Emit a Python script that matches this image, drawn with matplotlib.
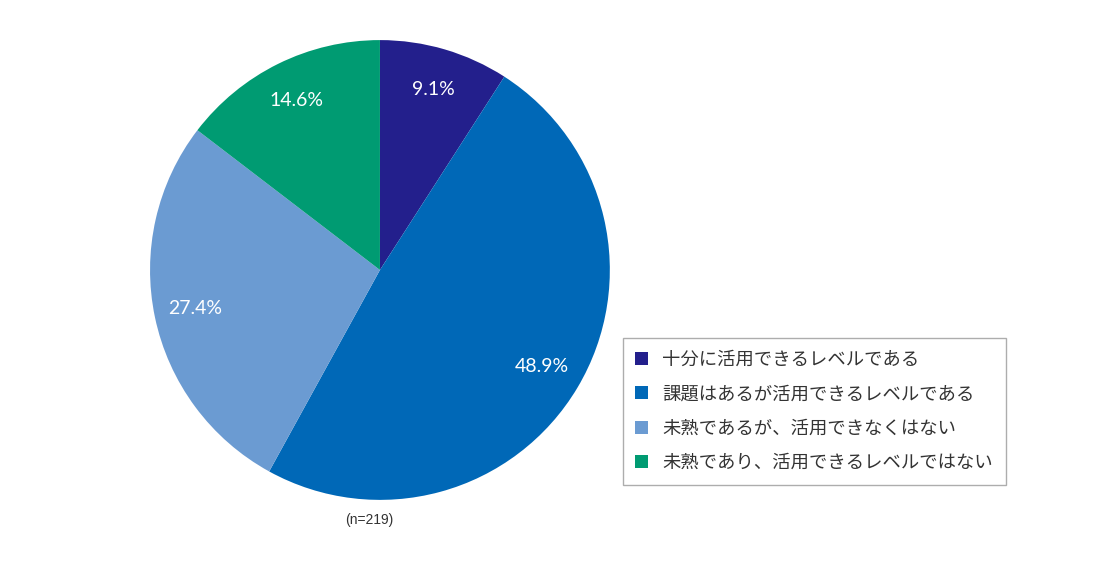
import matplotlib.pyplot as plt
from matplotlib.patches import Patch

plt.rcParams['font.family'] = ['Noto Sans CJK JP', 'DejaVu Sans']

labels = [
    "十分に活用できるレベルである",
    "課題はあるが活用できるレベルである",
    "未熟であるが、活用できなくはない",
    "未熟であり、活用できるレベルではない",
]
shares = [9.1, 48.9, 27.4, 14.6]
colors = ["#231F8C", "#0068B7", "#6B9BD2", "#009B72"]
n_total = 219

fig = plt.figure(figsize=(11, 5.64), dpi=100)
ax = fig.add_axes([0.1364, 0.1135, 0.418, 0.8156])

wedges, texts, autotexts = ax.pie(
    shares, colors=colors, startangle=90, counterclock=False,
    autopct="%.1f%%", pctdistance=0.82, radius=1.0,
    wedgeprops={"linewidth": 0},
    textprops={"color": "white", "fontsize": 14, "family": "Lato"},
)
ax.set_xlim(-1, 1)
ax.set_ylim(-1, 1)
ax.set_aspect("equal")

fig.text(0.336, 0.078, f"(n={n_total})", ha="center", va="center",
         fontsize=10, color="#333333", family="Liberation Sans")

handles = [Patch(facecolor=c, edgecolor="none") for c in colors]
leg = fig.legend(handles, labels, loc="lower left",
                 bbox_to_anchor=(0.566, 0.140), borderaxespad=0,
                 fontsize=13.2,
                 frameon=True, fancybox=False, edgecolor="#999999",
                 handlelength=0.7, handleheight=0.7, handletextpad=0.75,
                 labelspacing=0.9, borderpad=0.7)
leg.get_frame().set_linewidth(1.0)
for t in leg.get_texts():
    t.set_color("#333333")

fig.savefig("out.png", dpi=100)
